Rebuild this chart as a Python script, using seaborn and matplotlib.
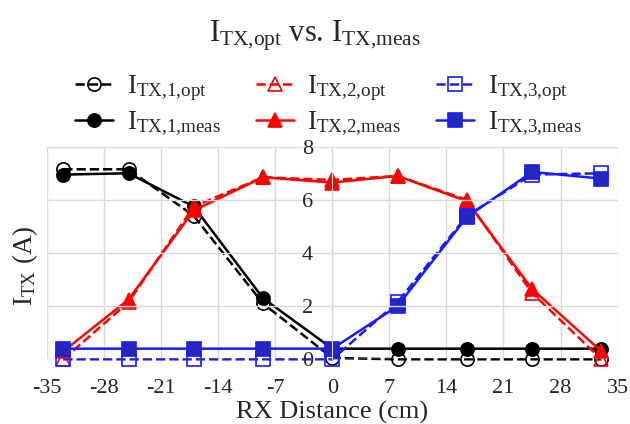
import seaborn as sns
import matplotlib.pyplot as plt

# RX distance (cm) and TX currents (A)
rx_dist = [-33, -25, -17, -8.5, 0, 8, 16.5, 24.5, 33]
i1_opt = [7.15, 7.15, 5.4, 2.1, 0.05, 0, 0, 0, 0]
i1_meas = [6.95, 7.0, 5.75, 2.3, 0.4, 0.4, 0.4, 0.4, 0.4]
i2_opt = [0, 2.15, 5.75, 6.85, 6.75, 6.9, 6.0, 2.5, 0]
i2_meas = [0.3, 2.25, 5.6, 6.85, 6.65, 6.9, 5.95, 2.65, 0.3]
i3_opt = [0, 0, 0, 0, 0, 2.15, 5.4, 6.95, 7.0]
i3_meas = [0.4, 0.4, 0.4, 0.4, 0.4, 2.0, 5.35, 7.05, 6.8]
x_ticks = list(range(-35, 36, 7))
y_ticks = [0, 2, 4, 6, 8]

sns.set_style('whitegrid')
plt.rcParams['font.family'] = ['Liberation Serif', 'DejaVu Serif']
plt.rcParams['mathtext.fontset'] = 'custom'
plt.rcParams['mathtext.rm'] = 'Liberation Serif'
plt.rcParams['axes.unicode_minus'] = False

fig = plt.figure(figsize=(6.3, 4.24), dpi=100)
ax = fig.add_axes([0.0746, 0.1526, 0.9057, 0.5014])

series = [
    (i1_opt, 'black', 'o', 'none', '--', r'$\mathregular{I_{TX{,}1{,}opt}}$'),
    (i1_meas, 'black', 'o', 'black', '-', r'$\mathregular{I_{TX{,}1{,}meas}}$'),
    (i2_opt, 'red', '^', 'none', '--', r'$\mathregular{I_{TX{,}2{,}opt}}$'),
    (i2_meas, 'red', '^', 'red', '-', r'$\mathregular{I_{TX{,}2{,}meas}}$'),
    (i3_opt, '#1a1aff', 's', 'none', '--', r'$\mathregular{I_{TX{,}3{,}opt}}$'),
    (i3_meas, '#1a1aff', 's', '#2727bb', '-', r'$\mathregular{I_{TX{,}3{,}meas}}$'),
]
for vals, col, mk, fc, ls, lab in series:
    sns.lineplot(x=rx_dist, y=vals, ax=ax, color=col, marker=mk, markersize=9.5,
                 markerfacecolor=fc, markeredgecolor=col, markeredgewidth=1.2,
                 linestyle=ls, linewidth=1.8, label=lab, clip_on=False)

ax.set_xlim(-35, 35)
ax.set_ylim(0, 8)
ax.set_xticks(x_ticks)
ax.set_yticks(y_ticks, labels=[str(v) for v in y_ticks])
ax.yaxis.set_zorder(5)
ax.grid(True, color='#d9d9d9', linewidth=1)
for s in ['top', 'right', 'bottom']:
    ax.spines[s].set_visible(False)
ax.spines['left'].set_position(('data', 0))
ax.spines['left'].set_color('#d9d9d9')
ax.tick_params(axis='x', length=0, labelsize=16, pad=14)
ax.tick_params(axis='y', length=0, labelsize=16, pad=14)
ax.set_xlabel('RX Distance (cm)', fontsize=19, labelpad=2)
fig.text(0.04, 0.373, r'$\mathregular{I_{TX}}$ (A)', rotation=90, fontsize=19.5,
         ha='center', va='center')

handles, labels = ax.get_legend_handles_labels()
ax.get_legend().remove()
fig.legend(handles, labels, loc='center', bbox_to_anchor=(0.5215, 0.751), ncol=3,
           frameon=False, fontsize=19.5, handlelength=1.4, columnspacing=1.3,
           handletextpad=0.5, labelspacing=0.25)
fig.text(0.5, 0.915, r'$\mathregular{I_{TX{,}opt}}$ vs. $\mathregular{I_{TX{,}meas}}$',
         fontsize=22, ha='center', va='center')

fig.savefig('out.png', dpi=100)
